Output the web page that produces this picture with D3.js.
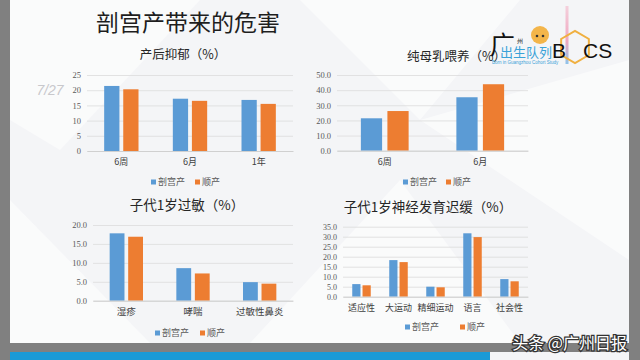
<!DOCTYPE html>
<html><head><meta charset="utf-8">
<script src="https://cdn.jsdelivr.net/npm/d3@7"></script>
<style>
html,body{margin:0;padding:0;background:#808080;}
svg{display:block;}
</style></head>
<body>
<svg id="chart" width="640" height="360"></svg>
<script>
// ---- data ----
const seriesNames = ["剖宫产", "顺产"];
const seriesColors = ["#5B9BD5", "#ED7D31"];

const c1Title = "产后抑郁（%）";
const c1Categories = ["6周", "6月", "1年"];
const c1Cesarean = [21.4, 17.2, 16.8];
const c1Vaginal = [20.3, 16.5, 15.5];
const c1Ticks = [0, 5, 10, 15, 20, 25];

const c2Title = "纯母乳喂养（%）";
const c2Categories = ["6周", "6月"];
const c2Cesarean = [21.4, 35.3];
const c2Vaginal = [26.2, 43.9];
const c2Ticks = [0, 10, 20, 30, 40, 50];

const c3Title = "子代1岁过敏（%）";
const c3Categories = ["湿疹", "哮喘", "过敏性鼻炎"];
const c3Cesarean = [17.8, 8.6, 4.9];
const c3Vaginal = [16.9, 7.2, 4.5];
const c3Ticks = [0, 5, 10, 15, 20];

const c4Title = "子代1岁神经发育迟缓（%）";
const c4Categories = ["适应性", "大运动", "精细运动", "语言", "社会性"];
const c4Cesarean = [6.3, 18.3, 5.0, 31.7, 8.8];
const c4Vaginal = [5.7, 17.3, 4.7, 29.8, 7.7];
const c4Ticks = [0, 5, 10, 15, 20, 25, 30, 35];

const mainTitle = "剖宫产带来的危害";
const pageNo = "7/27";

// ---- drawing ----
const svg = d3.select("#chart");
const CJK = "'Noto Sans CJK SC','Noto Sans',sans-serif";
const SERIF = "'Liberation Serif','DejaVu Serif',serif";

// slide
svg.append("rect").attr("x", 0).attr("y", 0).attr("width", 640).attr("height", 360).attr("fill", "#808080");
svg.append("rect").attr("x", 10).attr("y", 0).attr("width", 619).attr("height", 343).attr("fill", "#f4f5f7");
// faint background facets
const facets = [
  [[10,0],[200,0],[60,150],[10,120]],
  [[300,0],[520,0],[420,120]],
  [[420,120],[629,60],[629,260]],
  [[10,200],[150,343],[10,343]],
  [[250,343],[400,180],[520,343]]
];
svg.selectAll("polygon.facet").data(facets).join("polygon").attr("class","facet")
  .attr("points", d => d.map(p => p.join(",")).join(" "))
  .attr("fill", "#ffffff").attr("opacity", 0.55);

svg.append("rect").attr("x", 10).attr("y", 352).attr("width", 480).attr("height", 8).attr("fill", "#1a9ad6");
svg.append("rect").attr("x", 490).attr("y", 352).attr("width", 139).attr("height", 8).attr("fill", "#f4f5f7");

svg.append("text").attr("x", 188).attr("y", 31).attr("text-anchor", "middle")
  .attr("font-family", CJK).attr("font-size", 23).attr("fill", "#1e1e1e").text(mainTitle);

svg.append("text").attr("x", 50).attr("y", 95).attr("text-anchor", "middle")
  .attr("font-family", "'Liberation Sans',sans-serif").attr("font-style","italic").attr("font-size", 14)
  .attr("fill", "#c8c8cc").text(pageNo);

function drawChart(cfg) {
  const g = svg.append("g");
  const x = d3.scaleBand().domain(cfg.categories).range([cfg.x0, cfg.x1]).paddingInner(0.5).paddingOuter(0.25);
  const xs = d3.scaleBand().domain(seriesNames).range([0, x.bandwidth()]).paddingInner(0.2);
  const y = d3.scaleLinear().domain([0, d3.max(cfg.ticks)]).range([cfg.yb, cfg.yt]);

  // grid
  const grid = g.append("g").attr("transform", `translate(${cfg.x0},0)`)
    .call(d3.axisLeft(y).tickValues(cfg.ticks).tickSize(-(cfg.x1 - cfg.x0)).tickFormat(""));
  grid.select(".domain").remove();
  grid.selectAll("line").attr("stroke", "#dcdcdc").attr("stroke-width", 0.8);

  // y labels
  const ya = g.append("g").attr("transform", `translate(${cfg.x0 - 3},0)`)
    .call(d3.axisLeft(y).tickValues(cfg.ticks).tickSize(0).tickFormat(d3.format(cfg.fmt)));
  ya.select(".domain").remove();
  ya.selectAll("text").attr("font-family", SERIF).attr("font-size", cfg.tickSize || 8.5).attr("fill", "#595959");

  // bars
  const rows = cfg.categories.map((c, i) => ({ c, vals: [cfg.s1[i], cfg.s2[i]] }));
  const grp = g.selectAll("g.cat").data(rows).join("g").attr("class", "cat")
    .attr("transform", d => `translate(${x(d.c)},0)`);
  grp.selectAll("rect").data(d => d.vals.map((v, k) => ({ v, k }))).join("rect")
    .attr("x", d => xs(seriesNames[d.k])).attr("width", xs.bandwidth())
    .attr("y", d => y(d.v)).attr("height", d => y(0) - y(d.v))
    .attr("fill", d => seriesColors[d.k]);

  // x axis
  const xa = g.append("g").attr("transform", `translate(0,${cfg.yb})`)
    .call(d3.axisBottom(x).tickSize(0).tickPadding(cfg.xpad));
  xa.select(".domain").attr("stroke", "#d0d0d0");
  xa.selectAll("text").attr("font-family", CJK).attr("font-size", cfg.catSize || 9).attr("fill", "#404040");

  // title
  g.append("text").attr("x", cfg.tx).attr("y", cfg.ty).attr("text-anchor", cfg.tanchor || "middle")
    .attr("font-family", CJK).attr("font-size", cfg.titleSize || 12.5).attr("fill", "#262626").text(cfg.title);

  // legend
  seriesNames.forEach((n, k) => {
    const lx = cfg.lx[k];
    g.append("rect").attr("x", lx).attr("y", cfg.ly - 2.5).attr("width", 5).attr("height", 5).attr("fill", seriesColors[k]);
    g.append("text").attr("x", lx + 7).attr("y", cfg.ly).attr("dy", "0.35em")
      .attr("font-family", CJK).attr("font-size", 9).attr("fill", "#595959").text(n);
  });
}

drawChart({ title: c1Title, categories: c1Categories, s1: c1Cesarean, s2: c1Vaginal, ticks: c1Ticks, fmt: "d",
  x0: 87, x1: 293, yb: 151, yt: 75, xpad: 8, tx: 183, ty: 59, lx: [151, 195], ly: 182 });
drawChart({ title: c2Title, categories: c2Categories, s1: c2Cesarean, s2: c2Vaginal, ticks: c2Ticks, fmt: ".1f",
  x0: 337, x1: 528, yb: 150.7, yt: 75, xpad: 8, tx: 407, ty: 61, tanchor: "start", lx: [403, 446], ly: 182 });
drawChart({ title: c3Title, categories: c3Categories, s1: c3Cesarean, s2: c3Vaginal, ticks: c3Ticks, fmt: ".1f",
  x0: 93, x1: 293, yb: 300.7, yt: 225, xpad: 8, tx: 187, ty: 210, titleSize: 13.5, catSize: 9.5, lx: [155, 200], ly: 333 });
drawChart({ title: c4Title, categories: c4Categories, s1: c4Cesarean, s2: c4Vaginal, ticks: c4Ticks, fmt: ".1f",
  x0: 343, x1: 528, yb: 296.7, yt: 226.7, xpad: 8, tx: 428, ty: 212, titleSize: 13.5, tickSize: 8, lx: [405, 460], ly: 327 });

// logo (approximation)
const logo = svg.append("g");
const towerGrad = svg.append("defs").append("linearGradient").attr("id", "tower").attr("x1", 0).attr("y1", 0).attr("x2", 0).attr("y2", 1);
towerGrad.append("stop").attr("offset", "0%").attr("stop-color", "#f4d0dc");
towerGrad.append("stop").attr("offset", "60%").attr("stop-color", "#f0a7c0");
towerGrad.append("stop").attr("offset", "100%").attr("stop-color", "#8fc3ea");
logo.append("rect").attr("x", 565.5).attr("y", 6).attr("width", 3).attr("height", 58).attr("fill", "url(#tower)");
const hex = d3.range(6).map(i => { const a = Math.PI / 3 * i + Math.PI / 6; return [575 + 16 * Math.cos(a), 47 + 16 * Math.sin(a)]; });
logo.append("polygon").attr("points", hex.map(p => p.join(",")).join(" "))
  .attr("fill", "none").attr("stroke", "#f0b040").attr("stroke-width", 2);
logo.append("circle").attr("cx", 540).attr("cy", 35).attr("r", 9).attr("fill", "#f3b54a");
logo.append("circle").attr("cx", 537).attr("cy", 36).attr("r", 1.3).attr("fill", "#333");
logo.append("circle").attr("cx", 543).attr("cy", 36).attr("r", 1.3).attr("fill", "#333");
logo.append("text").attr("x", 490).attr("y", 54).attr("font-family", CJK).attr("font-size", 25).attr("fill", "#111").text("广");
logo.append("text").attr("x", 517).attr("y", 43).attr("font-family", CJK).attr("font-size", 6).attr("fill", "#111").text("州");
logo.append("text").attr("x", 500).attr("y", 57).attr("font-family", CJK).attr("font-size", 13).attr("fill", "#3aa2d8").text("出生队列");
logo.append("text").attr("x", 492).attr("y", 64).attr("font-family", "'Liberation Sans',sans-serif").attr("font-size", 4.5).attr("fill", "#3aa2d8").text("Born in Guangzhou Cohort Study");
logo.append("text").attr("x", 552).attr("y", 58).attr("font-family", "'Liberation Sans',sans-serif").attr("font-size", 21).attr("fill", "#111").text("B");
logo.append("text").attr("x", 583).attr("y", 58).attr("font-family", "'Liberation Sans',sans-serif").attr("font-size", 21).attr("fill", "#111").text("CS");

// watermark
svg.append("text").attr("x", 627).attr("y", 349).attr("text-anchor", "end")
  .attr("font-family", CJK).attr("font-size", 16).attr("fill", "#ffffff")
  .attr("stroke", "#333").attr("stroke-width", 2.5).attr("paint-order", "stroke").text("头条 @广州日报");
</script>
</body></html>
